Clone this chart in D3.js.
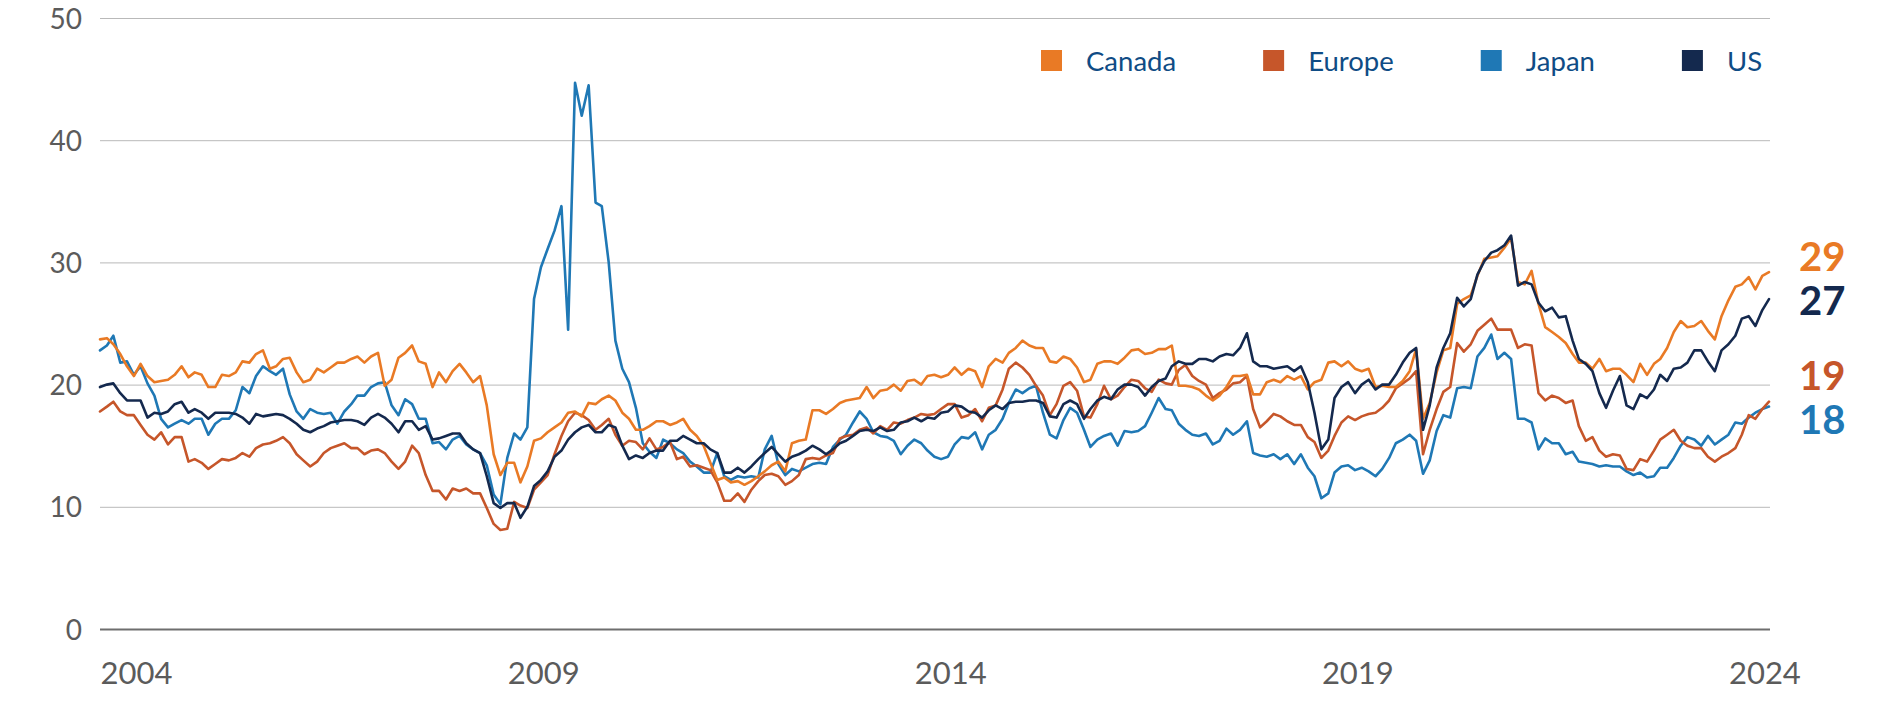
<!DOCTYPE html>
<html>
<head>
<meta charset="utf-8">
<script src="https://cdn.jsdelivr.net/npm/d3@7"></script>
<style>
  html, body { margin: 0; padding: 0; background: #ffffff; }
  svg { display: block; font-family: Lato, "Open Sans", sans-serif; }
</style>
</head>
<body>
<svg id="chart" width="1881" height="701"></svg>
<script>
// ---------------- DATA (monthly, starting January 2004) ----------------
const categories = ["Canada", "Europe", "Japan", "US"];
const startMonth = "2004-01";
const yearTicks = [2004, 2009, 2014, 2019, 2024];
const valueTicks = [0, 10, 20, 30, 40, 50];

const canada = [23.7,23.8,23.3,22.5,21.5,20.7,21.7,20.7,20.2,20.3,
20.4,20.8,21.5,20.6,21.0,20.8,19.8,19.8,20.8,20.7,
21.0,21.9,21.8,22.5,22.8,21.3,21.5,22.1,22.2,21.0,
20.2,20.4,21.3,21.0,21.4,21.8,21.8,22.1,22.3,21.8,
22.3,22.6,19.9,20.4,22.2,22.6,23.2,21.9,21.7,19.8,
21.0,20.2,21.1,21.7,21.0,20.2,20.7,18.3,14.3,12.6,
13.6,13.6,12.0,13.3,15.4,15.6,16.1,16.5,16.9,17.7,
17.8,17.4,18.5,18.4,18.8,19.1,18.7,17.7,17.2,16.3,
16.3,16.6,17.0,17.0,16.7,16.9,17.2,16.3,15.8,15.0,
13.6,12.2,12.4,12.0,12.1,11.8,12.1,12.5,12.9,13.4,
13.7,12.9,15.2,15.4,15.5,17.9,17.9,17.6,18.0,18.5,
18.7,18.8,18.9,19.8,18.9,19.5,19.6,20.0,19.5,20.3,
20.4,20.0,20.7,20.8,20.6,20.8,21.4,20.8,21.3,21.1,
19.8,21.5,22.1,21.8,22.6,23.0,23.6,23.2,23.0,23.0,
21.9,21.8,22.3,22.1,21.4,20.2,20.4,21.7,21.9,21.9,
21.7,22.2,22.8,22.9,22.5,22.6,22.9,22.9,23.2,19.9,
19.9,19.8,19.6,19.1,18.7,19.1,19.8,20.7,20.7,20.8,
19.2,19.2,20.2,20.4,20.2,20.7,20.4,20.7,19.6,20.2,
20.4,21.8,21.9,21.5,21.9,21.3,21.1,21.3,19.8,19.9,
19.8,19.8,20.3,21.1,22.9,17.2,18.5,21.0,22.8,23.0,
26.6,27.0,27.3,28.9,30.3,30.4,30.5,31.2,32.0,28.4,
28.2,29.3,26.6,24.7,24.3,23.9,23.4,22.5,21.8,21.8,
21.3,22.1,21.1,21.3,21.3,20.8,20.2,21.7,20.8,21.7,
22.1,23.0,24.3,25.2,24.7,24.8,25.2,24.4,23.7,25.6,
26.9,28.0,28.2,28.8,27.8,28.9,29.2];

const europe = [17.8,18.2,18.6,17.8,17.5,17.5,16.7,15.9,15.5,16.1,
15.1,15.7,15.7,13.7,13.9,13.6,13.1,13.5,13.9,13.8,
14.0,14.4,14.1,14.8,15.1,15.2,15.4,15.7,15.2,14.3,
13.8,13.3,13.7,14.4,14.8,15.0,15.2,14.8,14.8,14.3,
14.6,14.7,14.4,13.7,13.1,13.7,15.0,14.4,12.6,11.3,
11.3,10.6,11.5,11.3,11.5,11.1,11.1,9.9,8.6,8.1,
8.2,10.4,10.1,9.9,11.4,12.0,12.6,14.3,15.8,17.0,
17.7,17.5,17.1,16.3,16.7,17.2,15.9,15.0,15.4,15.3,
14.7,15.6,14.7,14.9,15.3,13.9,14.1,13.3,13.4,13.2,
13.0,12.0,10.5,10.5,11.1,10.4,11.4,12.1,12.6,12.7,
12.5,11.8,12.1,12.6,13.9,14.0,13.9,14.2,14.4,15.6,
15.8,15.9,16.3,16.5,16.0,16.6,16.3,16.9,16.8,17.1,
17.3,17.6,17.5,17.6,18.0,18.4,18.4,17.3,17.5,18.0,
17.0,18.1,18.3,19.6,21.3,21.8,21.4,20.8,19.9,19.1,
17.5,18.4,19.9,20.2,19.5,17.4,17.3,18.4,19.9,18.8,
19.1,19.8,20.4,20.3,19.7,19.4,20.4,20.1,20.0,21.2,
21.6,20.7,20.3,20.0,18.9,19.3,19.6,20.1,20.2,20.7,
18.0,16.5,17.0,17.6,17.4,17.0,16.7,16.7,15.7,15.3,
14.0,14.6,15.8,16.9,17.4,17.1,17.4,17.6,17.7,18.1,
18.7,19.7,20.1,20.5,21.1,14.3,16.3,18.0,19.4,19.8,
23.4,22.7,23.3,24.4,24.9,25.4,24.5,24.5,24.5,23.0,
23.3,23.2,19.3,18.7,19.1,18.9,18.5,18.7,16.6,15.4,
15.7,14.6,14.1,14.3,14.2,13.1,13.0,13.9,13.7,14.6,
15.5,15.9,16.3,15.4,15.0,14.8,14.8,14.1,13.7,14.1,
14.4,14.8,15.9,17.5,17.2,18.0,18.6];

const japan = [22.8,23.2,24.0,21.8,21.9,20.8,21.5,20.1,19.1,17.2,
16.5,16.8,17.1,16.8,17.2,17.2,15.9,16.8,17.2,17.2,
17.9,19.8,19.3,20.7,21.5,21.1,20.8,21.3,19.2,17.8,
17.2,18.0,17.7,17.6,17.7,16.8,17.8,18.4,19.1,19.1,
19.8,20.1,20.2,18.3,17.5,18.8,18.4,17.2,17.2,15.2,
15.3,14.7,15.5,15.8,15.1,14.7,14.4,13.4,11.0,10.2,
14.0,16.0,15.5,16.5,27.0,29.6,31.1,32.6,34.6,24.5,
44.7,42.0,44.5,34.9,34.6,30.0,23.6,21.3,20.2,18.1,
15.2,14.5,14.0,15.5,15.2,14.7,14.4,13.7,13.3,12.8,
12.8,14.4,12.5,12.2,12.5,12.4,12.5,12.4,14.7,15.8,
13.5,12.6,13.1,12.9,13.2,13.5,13.6,13.5,14.9,15.5,
15.9,16.9,17.8,17.2,16.1,15.8,15.7,15.4,14.3,15.0,
15.5,15.2,14.6,14.1,13.9,14.1,15.1,15.7,15.6,16.1,
14.7,15.9,16.3,17.2,18.5,19.6,19.3,19.7,19.9,17.7,
15.9,15.6,17.1,18.1,17.7,16.3,14.9,15.5,15.8,16.0,
15.0,16.2,16.1,16.2,16.6,17.7,18.9,18.0,17.9,16.8,
16.3,15.9,15.8,16.0,15.1,15.4,16.4,15.9,16.3,17.0,
14.4,14.2,14.1,14.3,13.9,14.3,13.5,14.3,13.2,12.5,
10.7,11.1,12.8,13.3,13.4,13.0,13.2,12.9,12.5,13.1,
14.0,15.2,15.5,15.9,15.4,12.7,13.8,16.2,17.5,17.3,
19.7,19.8,19.7,22.3,23.0,24.1,22.1,22.6,22.1,17.2,
17.2,16.9,14.7,15.6,15.2,15.2,14.3,14.5,13.7,13.6,
13.5,13.3,13.4,13.3,13.3,12.9,12.6,12.8,12.4,12.5,
13.2,13.2,14.0,15.0,15.7,15.5,15.0,15.8,15.1,15.5,
15.9,16.9,16.8,17.3,17.7,18.0,18.2];

const us = [19.8,20.0,20.1,19.3,18.7,18.7,18.7,17.3,17.7,17.6,
17.8,18.4,18.6,17.7,18.0,17.7,17.2,17.7,17.7,17.7,
17.6,17.3,16.8,17.6,17.4,17.5,17.6,17.5,17.2,16.8,
16.3,16.1,16.4,16.6,16.9,17.0,17.1,17.1,17.0,16.7,
17.3,17.6,17.3,16.8,16.1,17.0,17.0,16.3,16.6,15.5,
15.6,15.8,16.0,16.0,15.2,14.7,14.4,12.5,10.3,9.9,
10.3,10.3,9.1,10.0,11.7,12.2,12.9,14.1,14.6,15.5,
16.1,16.5,16.7,16.1,16.1,16.7,16.5,15.0,13.9,14.2,
14.0,14.4,14.6,14.6,15.4,15.4,15.8,15.5,15.2,15.2,
14.7,14.4,12.8,12.8,13.2,12.8,13.3,13.9,14.4,14.9,
14.3,13.7,14.1,14.3,14.6,15.0,14.7,14.3,14.7,15.2,
15.4,15.8,16.2,16.3,16.2,16.5,16.2,16.3,16.9,17.0,
17.3,17.0,17.3,17.2,17.7,17.8,18.3,18.2,17.8,17.7,
17.3,17.9,18.3,18.0,18.5,18.6,18.6,18.7,18.7,18.5,
17.4,17.3,18.4,18.7,18.4,17.2,18.0,18.7,19.0,18.8,
19.6,20.0,20.0,19.8,19.1,19.8,20.3,20.5,21.5,21.9,
21.7,21.7,22.1,22.1,21.9,22.3,22.5,22.4,23.0,24.2,
21.9,21.5,21.5,21.3,21.4,21.5,21.1,21.5,20.2,17.7,
14.7,15.5,18.9,19.8,20.2,19.3,20.0,20.4,19.6,20.0,
20.0,20.8,21.8,22.6,23.0,16.3,18.3,21.4,23.0,24.2,
27.1,26.4,27.0,29.0,30.1,30.8,31.0,31.4,32.2,28.1,
28.4,28.2,26.7,26.0,26.3,25.5,25.6,23.6,22.1,21.7,
21.1,19.3,18.1,19.5,20.7,18.3,18.0,19.2,18.9,19.6,
20.8,20.3,21.3,21.4,21.8,22.8,22.8,21.9,21.1,22.8,
23.3,24.0,25.4,25.6,24.8,26.1,27.0];

// ---------------- STYLE ----------------
const colors = { "Canada": "#E97A25", "Europe": "#C6562A", "Japan": "#1F78B5", "US": "#14294E" };
const seriesValues = { "Canada": canada, "Europe": europe, "Japan": japan, "US": us };
const drawOrder = ["Japan", "Europe", "Canada", "US"];

const plot = { left: 100, right: 1770, top: 18, bottom: 629 };

const svg = d3.select("#chart");
const parseMonth = d3.timeParse("%Y-%m");
const start = parseMonth(startMonth);
const dates = canada.map((_, i) => d3.timeMonth.offset(start, i));

const x = d3.scaleTime()
  .domain([start, dates[dates.length - 1]])
  .range([plot.left, plot.right - 1]);
const y = d3.scaleLinear().domain([0, 50]).range([plot.bottom, plot.top]);

// ---------------- GRID + Y AXIS ----------------
const yAxis = d3.axisLeft(y)
  .tickValues(valueTicks)
  .tickSize(-(plot.right - plot.left))
  .tickPadding(18)
  .tickFormat(d3.format("d"));
const gy = svg.append("g")
  .attr("transform", `translate(${plot.left},0)`)
  .call(yAxis);
gy.select(".domain").remove();
gy.selectAll(".tick line")
  .attr("stroke", d => d === 0 ? "#6e6e6e" : "#b9b9b9")
  .attr("stroke-width", d => d === 0 ? 2 : 1);
gy.selectAll(".tick text")
  .attr("fill", "#5b5b5b")
  .attr("dy", "0.36em")
  .style("font-family", "Lato, 'Open Sans', sans-serif")
  .style("font-size", "28px");

// ---------------- X AXIS ----------------
const xAxis = d3.axisBottom(x)
  .tickValues(yearTicks.map(yr => new Date(yr, 0, 1)))
  .tickSize(0)
  .tickPadding(33)
  .tickFormat(d3.timeFormat("%Y"));
const gx = svg.append("g")
  .attr("transform", `translate(0,${plot.bottom})`)
  .call(xAxis);
gx.select(".domain").remove();
gx.selectAll(".tick text")
  .attr("fill", "#5b5b5b")
  .attr("text-anchor", "start")
  .style("font-family", "Lato, 'Open Sans', sans-serif")
  .style("font-size", "31px");

// ---------------- LINES ----------------
const line = d3.line()
  .x((d, i) => x(dates[i]))
  .y(d => y(d));

svg.append("g").selectAll("path")
  .data(drawOrder)
  .join("path")
  .attr("d", k => line(seriesValues[k]))
  .attr("fill", "none")
  .attr("stroke", k => colors[k])
  .attr("stroke-width", 2.6)
  .attr("stroke-linejoin", "round")
  .attr("stroke-linecap", "round");

// ---------------- END LABELS (dodged) ----------------
const ends = categories.map(k => {
  const v = seriesValues[k];
  return { key: k, value: v[v.length - 1], y: y(v[v.length - 1]) };
}).sort((a, b) => a.y - b.y);
const minGap = 44;
for (let iter = 0; iter < 50; iter++) {
  for (let i = 1; i < ends.length; i++) {
    const a = ends[i - 1], b = ends[i];
    const overlap = minGap - (b.y - a.y);
    if (overlap > 0) { a.y -= overlap / 2; b.y += overlap / 2; }
  }
}
svg.append("g").selectAll("text")
  .data(ends)
  .join("text")
  .attr("x", 1799)
  .attr("y", d => d.y - 7)
  .attr("dy", "0.36em")
  .attr("fill", d => colors[d.key])
  .style("font-family", "Lato, 'Open Sans', sans-serif")
  .style("font-weight", "700")
  .style("font-size", "40px")
  .text(d => Math.round(d.value));

// ---------------- LEGEND ----------------
const legend = svg.append("g");
let lx = 1041;
categories.forEach(k => {
  legend.append("rect")
    .attr("x", lx).attr("y", 50)
    .attr("width", 21).attr("height", 21)
    .attr("fill", colors[k]);
  const t = legend.append("text")
    .attr("x", lx + 45).attr("y", 61)
    .attr("dy", "0.36em")
    .attr("fill", "#0f4c85")
    .style("font-family", "Lato, 'Open Sans', sans-serif")
    .style("font-size", "27.5px")
    .text(k);
  lx += 45 + t.node().getComputedTextLength() + 87;
});
</script>
</body>
</html>
